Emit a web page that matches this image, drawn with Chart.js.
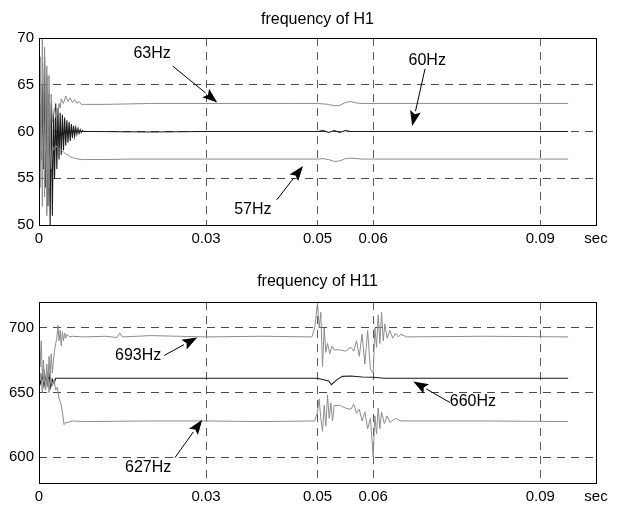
<!DOCTYPE html>
<html>
<head>
<meta charset="utf-8">
<script src="https://cdn.jsdelivr.net/npm/chart.js@4.4.1/dist/chart.umd.min.js"></script>
<style>
  html, body { margin: 0; padding: 0; background: #fff; }
  .box { position: relative; width: 626px; }
  canvas { display: block; }
</style>
</head>
<body>
<div class="box" style="height:250px"><canvas id="c1" width="626" height="250"></canvas></div>
<div class="box" style="height:256px"><canvas id="c2" width="626" height="256"></canvas></div>
<script>
// ---------- shared axis data ----------
const xTicks = [0, 0.03, 0.05, 0.06, 0.09, 0.1];
const xTickLabels = ['0', '0.03', '0.05', '0.06', '0.09', 'sec'];
const h1YTicks = [50, 55, 60, 65, 70];
const h11YTicks = [600, 650, 700];

// ---------- frequency of H1 ----------
const h1T63 = [0,0.0002,0.0004,0.0006,0.0008,0.001,0.0012,0.0014,0.0016,0.0018,0.002,0.0022,0.0024,0.0026,0.0028,0.003,0.0032,0.0034,0.0036,0.0038,0.004,0.0044,0.0048,0.0052,0.0056,0.006,0.0064,0.0068,0.0072,0.0076,0.008,0.012,0.016,0.02,0.03,0.045,0.05,0.052,0.053,0.054,0.055,0.056,0.057,0.058,0.095];
const h1F63 = [62,68,58,70,60,69,58,67,56,66,59,64,61,62,62.5,61.5,62.5,62,63,62.5,63.5,63,63.8,63.2,63.6,63.1,63.4,63,63.2,62.9,62.9,62.9,62.95,63,63,63,63,62.9,62.75,62.8,63.1,63.2,63.05,63,63];

const h1T60 = [0,0.0002,0.0004,0.0006,0.0008,0.001,0.0012,0.0014,0.0016,0.0018,0.002,0.0022,0.0024,0.0026,0.0028,0.003,0.0032,0.0034,0.0036,0.0038,0.004,0.0042,0.0044,0.0046,0.0048,0.005,0.0052,0.0054,0.0056,0.0058,0.006,0.0062,0.0064,0.0066,0.0068,0.007,0.0072,0.0074,0.0076,0.0078,0.008,0.01,0.02,0.03,0.05,0.051,0.052,0.053,0.054,0.055,0.056,0.06,0.095];
const h1F60 = [60,63,57,65,56,68,54,66,52,64,50,63,51,62,55,63,56,62.5,57,62,57.5,61.8,58,61.5,58.5,61.2,58.8,61,59,60.8,59.3,60.6,59.5,60.4,59.7,60.3,59.8,60.2,59.9,60.1,60,60,59.95,60,60,60.1,59.9,60.1,59.9,60.1,60,60,60];

const h1T57 = [0,0.0002,0.0004,0.0006,0.0008,0.001,0.0012,0.0014,0.0016,0.0018,0.002,0.0022,0.0024,0.0026,0.003,0.0034,0.004,0.0044,0.0048,0.0052,0.0056,0.006,0.007,0.008,0.012,0.016,0.03,0.05,0.051,0.052,0.053,0.054,0.055,0.056,0.058,0.095];
const h1F57 = [58,54,62,52,64,53,62,51,60,54,59,56,58.5,58,58.5,58.2,58,57.8,57.6,57.5,57.3,57.2,57.05,57,57,57.05,57.05,57.05,57.1,57,56.8,56.85,57.1,57.15,57.05,57.05];

// ---------- frequency of H11 ----------
const h11T693 = [0,0.0002,0.0004,0.0006,0.0008,0.001,0.0012,0.0014,0.0016,0.0018,0.002,0.0022,0.0024,0.0026,0.0028,0.003,0.0032,0.0034,0.0036,0.0038,0.004,0.0042,0.0044,0.0046,0.0048,0.005,0.0055,0.006,0.008,0.012,0.014,0.0145,0.015,0.02,0.03,0.04,0.049,0.0495,0.05,0.0503,0.0506,0.0509,0.0512,0.0515,0.0518,0.0522,0.0526,0.053,0.054,0.055,0.056,0.0565,0.057,0.0575,0.058,0.0585,0.059,0.0595,0.06,0.0603,0.0606,0.0609,0.0612,0.0615,0.0618,0.0621,0.0625,0.063,0.0635,0.064,0.0645,0.065,0.066,0.08,0.095];
const h11F693 = [700,670,690,662,675,658,660,672,655,678,662,680,665,675,683,688,692,702,690,698,686,697,690,696,692,695,693,693.5,693,693.5,692.5,696,693,694,693,693.5,693,700,719,700,712,670,700,681,688,680,686,683,683,682,685,682,690,678,695,672,698,668,665,700,685,710,688,712,690,703,692,698,692,696,693,695,693,693.5,693];

const h11T660 = [0,0.0003,0.0006,0.0009,0.0012,0.0015,0.0018,0.0021,0.0024,0.0027,0.003,0.0035,0.01,0.03,0.05,0.052,0.0525,0.053,0.0535,0.0545,0.056,0.058,0.06,0.062,0.065,0.095];
const h11F660 = [662,657,664,655,662,656,664,654,660,657,661,661,661,661,661,659,656,658,660,662.5,662.8,662,661.8,661,661,661];

const h11T627 = [0,0.0003,0.0006,0.0009,0.0012,0.0015,0.0018,0.0021,0.0024,0.0027,0.003,0.0033,0.0036,0.0039,0.0042,0.0045,0.0048,0.005,0.006,0.008,0.02,0.03,0.04,0.0495,0.05,0.0503,0.0506,0.0509,0.0512,0.0515,0.0518,0.0521,0.0524,0.0527,0.053,0.054,0.055,0.056,0.0565,0.057,0.0575,0.058,0.0585,0.059,0.0595,0.06,0.0603,0.0606,0.0609,0.0612,0.0615,0.062,0.0625,0.063,0.064,0.065,0.08,0.095];
const h11F627 = [655,665,650,668,652,666,650,662,655,660,652,654,645,642,635,625,627,626.5,628,627.5,628,628,627.5,628,635,645,630,620,640,624,648,630,642,628,640,640,638,637,641,634,637,628,635,622,630,600,632,618,638,622,635,626,632,627,630,628,628,627.5];

// ---------- annotation labels (text, label point, arrow tail, arrow head in data units) ----------
const h1Labels = ['63Hz', '60Hz', '57Hz'];
const h1LabelT = [0.0203, 0.0697, 0.0384];
const h1LabelF = [68.3, 67.55, 51.6];
const h1TailT = [0.0240, 0.0693, 0.0427];
const h1TailF = [67.0, 66.7, 52.7];
const h1HeadT = [0.0320, 0.0670, 0.0474];
const h1HeadF = [63.1, 60.6, 56.3];

const h11Labels = ['693Hz', '660Hz', '627Hz'];
const h11LabelT = [0.0178, 0.0779, 0.0196];
const h11LabelF = [678.7, 643.0, 592.0];
const h11TailT = [0.0225, 0.0738, 0.0244];
const h11TailF = [678.7, 642.2, 599.6];
const h11HeadT = [0.0284, 0.0672, 0.0293];
const h11HeadF = [692.6, 658.5, 629.0];

// ---------- helpers ----------
const FONT = "'Liberation Sans', Arial, Helvetica, sans-serif";
const toPts = (t, f) => t.map((v, i) => ({ x: v, y: f[i] }));

function boxPlugin() {
  return {
    id: 'frameBox',
    afterDraw(chart) {
      const a = chart.chartArea, ctx = chart.ctx;
      ctx.save();
      ctx.strokeStyle = '#000';
      ctx.lineWidth = 1;
      ctx.strokeRect(Math.round(a.left) + 0.5, Math.round(a.top) + 0.5,
                     Math.round(a.right - a.left), Math.round(a.bottom - a.top));
      ctx.restore();
    }
  };
}

function annotPlugin(labels, lt, lf, tt, tf, ht, hf) {
  return {
    id: 'arrowLabels',
    afterDraw(chart) {
      const ctx = chart.ctx, xs = chart.scales.x, ys = chart.scales.y;
      ctx.save();
      labels.forEach((txt, i) => {
        const x0 = xs.getPixelForValue(tt[i]), y0 = ys.getPixelForValue(tf[i]);
        const x1 = xs.getPixelForValue(ht[i]), y1 = ys.getPixelForValue(hf[i]);
        const ang = Math.atan2(y1 - y0, x1 - x0);
        const len = 15, half = 5.5;
        const bx = x1 - len * Math.cos(ang), by = y1 - len * Math.sin(ang);
        ctx.strokeStyle = '#000';
        ctx.lineWidth = 1;
        ctx.beginPath();
        ctx.moveTo(x0, y0);
        ctx.lineTo(bx, by);
        ctx.stroke();
        ctx.fillStyle = '#000';
        ctx.beginPath();
        ctx.moveTo(x1, y1);
        ctx.lineTo(bx - half * Math.sin(ang), by + half * Math.cos(ang));
        ctx.lineTo(bx + 3 * Math.cos(ang), by + 3 * Math.sin(ang));
        ctx.lineTo(bx + half * Math.sin(ang), by - half * Math.cos(ang));
        ctx.closePath();
        ctx.fill();
        ctx.font = '16px ' + FONT;
        ctx.textAlign = 'center';
        ctx.textBaseline = 'middle';
        ctx.fillText(txt, xs.getPixelForValue(lt[i]), ys.getPixelForValue(lf[i]));
      });
      ctx.restore();
    }
  };
}

function makeChart(id, cfg) {
  const lineDs = (pts, color, w) => ({
    data: pts, borderColor: color, borderWidth: w, pointRadius: 0,
    fill: false, tension: 0
  });
  return new Chart(document.getElementById(id), {
    type: 'line',
    data: {
      datasets: [
        lineDs(cfg.upper, '#8c8c8c', 1),
        lineDs(cfg.lower, '#8c8c8c', 1),
        lineDs(cfg.mid, '#1a1a1a', 1.1)
      ]
    },
    options: {
      responsive: false,
      animation: false,
      events: [],
      layout: { padding: { left: 0, right: 30, top: 0, bottom: 0 } },
      plugins: {
        legend: { display: false },
        tooltip: { enabled: false },
        title: {
          display: true,
          text: cfg.title,
          fullSize: false,
          color: '#000',
          font: { family: FONT, size: 16, weight: 'normal', lineHeight: 1.2 },
          padding: cfg.titlePad
        }
      },
      scales: {
        x: {
          type: 'linear',
          min: 0, max: 0.1,
          afterBuildTicks: (s) => { s.ticks = xTicks.map(v => ({ value: v })); },
          afterFit: (s) => { s.height = cfg.xAxisH; },
          ticks: {
            autoSkip: false, maxRotation: 0, padding: 5, color: '#000',
            font: { family: FONT, size: 15 },
            callback: (v) => { const k = xTicks.indexOf(v); return k >= 0 ? xTickLabels[k] : ''; }
          },
          grid: { color: '#5a5a5a', lineWidth: 1, drawTicks: false },
          border: { display: false, dash: [8, 6] }
        },
        y: {
          type: 'linear',
          min: cfg.ymin, max: cfg.ymax,
          afterBuildTicks: (s) => { s.ticks = cfg.yTicks.map(v => ({ value: v })); },
          afterFit: (s) => { s.width = 39; },
          ticks: {
            padding: 5, color: '#000',
            font: { family: FONT, size: 15 }
          },
          grid: { color: '#4a4a4a', lineWidth: 1, drawTicks: false },
          border: { display: false, dash: [8, 6] }
        }
      }
    },
    plugins: [boxPlugin(), cfg.annot]
  });
}

makeChart('c1', {
  title: 'frequency of H1',
  titlePad: { top: 10.4, bottom: 8.4 },
  xAxisH: 25,
  ymin: 50, ymax: 70, yTicks: h1YTicks,
  upper: toPts(h1T63, h1F63),
  mid: toPts(h1T60, h1F60),
  lower: toPts(h1T57, h1F57),
  annot: annotPlugin(h1Labels, h1LabelT, h1LabelF, h1TailT, h1TailF, h1HeadT, h1HeadF)
});

makeChart('c2', {
  title: 'frequency of H11',
  titlePad: { top: 22.4, bottom: 10.4 },
  xAxisH: 23,
  ymin: 580, ymax: 720, yTicks: h11YTicks,
  upper: toPts(h11T693, h11F693),
  mid: toPts(h11T660, h11F660),
  lower: toPts(h11T627, h11F627),
  annot: annotPlugin(h11Labels, h11LabelT, h11LabelF, h11TailT, h11TailF, h11HeadT, h11HeadF)
});
</script>
</body>
</html>
